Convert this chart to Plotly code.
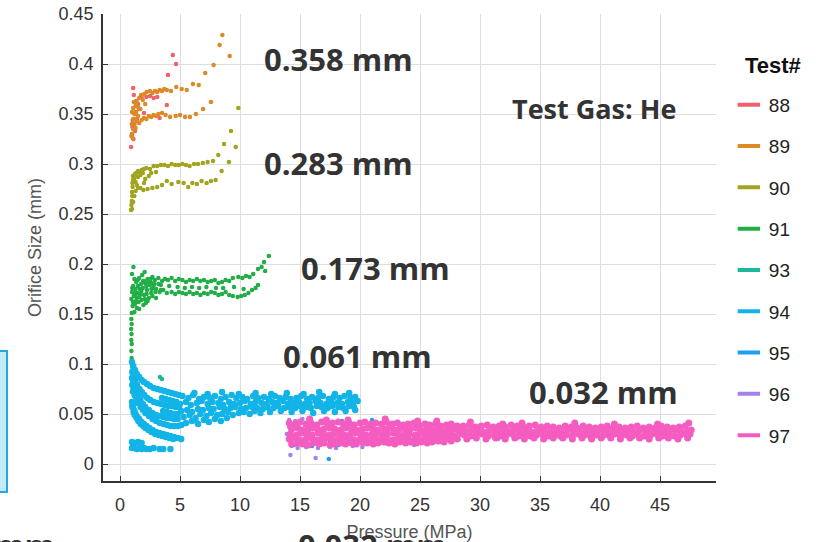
import plotly.graph_objects as go

# ---------------- data (Pressure MPa, Orifice size mm) ----------------
tests = ["88", "89", "90", "91", "93", "94", "95", "96", "97"]
colors = ["#F2616B", "#DC8A24", "#A2A41E", "#22AE46", "#1DB89A",
          "#12B4E8", "#1F9DF0", "#A482EE", "#F45CC0"]

p88 = [0.92, 1.03, 1.05, 1.1, 1.0, 1.15, 1.2, 1.3, 1.4, 1.5, 1.8, 2.2, 2.5, 2.8, 3.1, 3.3, 3.9, 4.0, 4.4, 4.67,
       1.25, 1.6, 2.0, 1.12, 1.35]
d88 = [0.317, 0.337, 0.344, 0.376, 0.330, 0.369, 0.340, 0.352, 0.345, 0.360, 0.367, 0.367, 0.368, 0.366, 0.367,
       0.346, 0.359, 0.389, 0.409, 0.400, 0.333, 0.355, 0.351, 0.325, 0.363]

p89 = [1.0, 1.1, 1.15, 1.2, 1.3, 1.4, 1.5, 1.6, 1.75, 1.9, 2.03, 2.22, 2.5, 2.7, 2.92, 3.1, 3.3, 3.5, 3.69, 3.9,
       4.25, 4.69, 5.14, 5.56, 6.08, 6.56, 7.1, 7.8, 8.3, 8.53, 9.14,
       1.0, 1.05, 1.1, 1.2, 1.3, 1.4, 1.6, 1.8, 2.0, 2.2, 2.4, 2.6, 2.8, 3.0, 3.2, 3.5, 3.8, 4.17, 4.64, 5.0,
       5.42, 5.83, 6.33, 6.92, 7.58,
       1.25, 1.35, 1.5, 1.7, 2.1, 1.1, 0.98, 0.95]
d89 = [0.352, 0.356, 0.362, 0.350, 0.358, 0.362, 0.357, 0.366, 0.369, 0.364, 0.370, 0.372, 0.373, 0.371, 0.373,
       0.372, 0.374, 0.373, 0.375, 0.374, 0.373, 0.377, 0.375, 0.374, 0.380, 0.379, 0.391, 0.399, 0.419, 0.429,
       0.408,
       0.330, 0.326, 0.335, 0.340, 0.336, 0.343, 0.341, 0.344, 0.346, 0.345, 0.348, 0.347, 0.349, 0.348, 0.350,
       0.351, 0.349, 0.347, 0.348, 0.349, 0.347, 0.347, 0.350, 0.355, 0.362,
       0.345, 0.352, 0.348, 0.355, 0.360, 0.345, 0.340, 0.328]

p90 = [0.92, 0.95, 0.98, 1.02, 1.0, 1.05, 1.03, 1.1, 1.08, 1.2, 1.25, 1.35, 1.5, 1.65, 1.8, 2.0, 2.2, 2.5, 2.8,
       3.1, 3.4, 3.7, 4.0, 4.3, 4.6, 4.9, 5.2, 5.5, 5.8, 6.17, 6.5, 6.9, 7.3, 7.75, 8.19, 8.67, 9.25, 9.64,
       1.0, 1.1, 1.2, 1.3, 1.5, 1.7, 1.95, 2.3, 2.7, 3.1, 3.5, 3.9, 4.3, 4.86, 5.3, 5.69, 6.03, 6.4, 6.8, 7.22,
       7.58, 7.97, 8.47, 9.08, 9.86,
       1.3, 1.5, 1.7, 2.1, 2.4, 2.0, 1.4, 2.6, 3.0, 1.9]
d90 = [0.254, 0.259, 0.263, 0.268, 0.272, 0.277, 0.281, 0.284, 0.288, 0.286, 0.290, 0.291, 0.293, 0.292, 0.294,
       0.295, 0.296, 0.295, 0.298, 0.298, 0.299, 0.299, 0.298, 0.300, 0.299, 0.299, 0.300, 0.299, 0.298, 0.300,
       0.300, 0.301, 0.302, 0.303, 0.309, 0.320, 0.333, 0.317,
       0.255, 0.262, 0.268, 0.273, 0.276, 0.276, 0.274, 0.275, 0.276, 0.277, 0.279, 0.283, 0.280, 0.282, 0.281,
       0.277, 0.281, 0.280, 0.283, 0.281, 0.283, 0.284, 0.293, 0.302, 0.356,
       0.282, 0.287, 0.289, 0.285, 0.288, 0.281, 0.279, 0.291, 0.292, 0.291]

p91 = [2.0, 2.3, 2.6, 2.9, 3.2, 3.5, 3.75, 4.0, 4.3, 4.6, 4.9, 5.2, 5.5, 5.8, 6.1, 6.4, 6.7, 7.0, 7.3, 7.6,
       7.9, 8.2, 8.5, 8.8, 9.1, 9.4, 9.86, 10.2, 10.5, 10.8, 11.1, 11.5, 11.8, 12.0, 12.4, 12.1,
       3.0, 3.3, 3.6, 3.9, 4.3, 4.6, 4.9, 5.2, 5.5, 5.8, 6.1, 6.4, 6.7, 7.0, 7.3, 7.6, 7.9, 8.2, 8.5, 8.8,
       9.1, 9.4, 9.8, 10.1, 10.4, 10.7, 11.0, 11.3, 11.5,
       2.2, 2.8, 3.4, 4.1, 4.8, 5.4, 6.0, 6.6, 7.2, 8.0, 8.6, 9.5, 10.3,
       0.95, 1.0, 1.05, 1.1, 1.15, 1.2, 1.25, 1.3, 1.35, 1.4, 1.45, 1.5, 1.55, 1.6, 1.7, 1.75, 1.8, 1.9, 2.0, 2.1,
       2.15, 2.25, 2.4, 2.5, 2.6, 2.7, 2.85, 3.0, 1.0, 1.2, 1.4, 1.6, 0.98, 1.08, 1.28, 1.65, 1.95, 2.3, 2.55, 1.85,
       1.12, 2.05, 2.7,
       1.02, 1.18, 1.33, 1.48, 1.62, 1.78, 1.92, 2.08, 2.22, 2.38, 2.62, 2.78, 2.95, 3.2, 3.4,
       0.95, 0.97, 0.93, 0.96, 0.94, 0.98, 0.95, 0.97, 1.0, 1.02, 1.05]
d91 = [0.183, 0.185, 0.181, 0.184, 0.186, 0.183, 0.185, 0.184, 0.186, 0.183, 0.185, 0.184, 0.182, 0.184, 0.183,
       0.185, 0.183, 0.184, 0.182, 0.183, 0.184, 0.181, 0.182, 0.184, 0.183, 0.186, 0.187, 0.186, 0.188, 0.187,
       0.190, 0.195, 0.197, 0.202, 0.208, 0.193,
       0.175, 0.172, 0.174, 0.171, 0.172, 0.170, 0.172, 0.171, 0.170, 0.172, 0.170, 0.171, 0.169, 0.171, 0.170,
       0.172, 0.171, 0.169, 0.170, 0.172, 0.169, 0.168, 0.167, 0.168, 0.169, 0.171, 0.174, 0.176, 0.179,
       0.178, 0.176, 0.179, 0.178, 0.177, 0.176, 0.177, 0.176, 0.177, 0.176, 0.176, 0.177, 0.175,
       0.165, 0.172, 0.158, 0.178, 0.168, 0.185, 0.160, 0.175, 0.182, 0.166, 0.171, 0.178, 0.162, 0.186, 0.170,
       0.180, 0.164, 0.176, 0.169, 0.181, 0.161, 0.174, 0.166, 0.179, 0.171, 0.168, 0.180, 0.166, 0.190, 0.152,
       0.156, 0.155, 0.151, 0.162, 0.168, 0.175, 0.159, 0.163, 0.185, 0.189, 0.197, 0.192, 0.187,
       0.176, 0.171, 0.163, 0.184, 0.167, 0.173, 0.183, 0.165, 0.170, 0.182, 0.175, 0.179, 0.172, 0.180, 0.174,
       0.145, 0.140, 0.135, 0.130, 0.124, 0.120, 0.113, 0.106, 0.100, 0.097, 0.093]

p93 = [1.0, 1.05, 1.1, 0.98, 1.15, 2.8, 3.2, 3.6, 4.0, 4.4, 5.1, 6.4, 6.9, 12.9, 10.0, 3.33, 3.5]
d93 = [0.088, 0.083, 0.078, 0.072, 0.068, 0.034, 0.031, 0.029, 0.027, 0.026, 0.024, 0.042, 0.044, 0.069,
       0.068, 0.087, 0.085]

# test 94: decaying arcs at low pressure, then the 0.061 mm band
p94_arcs = [1.0, 1.1, 1.25, 1.4, 1.6, 1.8, 2.0, 2.25, 2.5, 2.8, 3.1, 3.4, 3.7, 4.0, 4.3, 4.6, 4.9,
            1.02, 1.12, 1.27, 1.42, 1.62, 1.82, 2.02, 2.27, 2.52, 2.82, 3.12, 3.42, 3.72, 4.02, 4.32, 4.62, 4.92,
            1.0, 1.1, 1.2, 1.35, 1.5, 1.7, 1.9, 2.1, 2.4, 2.7, 3.0, 3.3, 3.6, 3.9, 4.2, 4.5, 4.8,
            1.02, 1.12, 1.22, 1.37, 1.52, 1.72, 1.92, 2.12, 2.42, 2.72, 3.02, 3.32, 3.62, 3.92, 4.22, 4.52, 4.82,
            5.12,
            1.0, 1.05, 1.1, 1.2, 1.3, 1.45, 1.6, 1.8, 2.0, 2.2, 2.45, 2.7, 3.0, 3.3, 3.6, 3.9, 4.2, 4.5, 4.8, 5.1,
            1.03, 1.13, 1.23, 1.38, 1.53, 1.73, 1.93, 2.13, 2.38, 2.63, 2.93, 3.23, 3.53, 3.83, 4.13, 4.43,
            3.5, 3.8, 4.1, 4.4, 4.7, 3.6, 3.9, 4.2, 4.5, 4.8]
d94_arcs = [0.102, 0.098, 0.094, 0.090, 0.087, 0.084, 0.082, 0.080, 0.078, 0.076, 0.075, 0.074, 0.073, 0.072,
            0.071, 0.070, 0.069,
            0.092, 0.088, 0.083, 0.079, 0.075, 0.072, 0.069, 0.066, 0.064, 0.062, 0.061, 0.060, 0.059, 0.058,
            0.058, 0.057, 0.057,
            0.086, 0.081, 0.077, 0.072, 0.068, 0.064, 0.060, 0.057, 0.054, 0.051, 0.049, 0.048, 0.047, 0.046,
            0.046, 0.045, 0.045,
            0.079, 0.074, 0.070, 0.065, 0.061, 0.057, 0.054, 0.051, 0.048, 0.045, 0.043, 0.041, 0.040, 0.039,
            0.038, 0.038, 0.038, 0.039,
            0.062, 0.059, 0.056, 0.053, 0.050, 0.047, 0.045, 0.042, 0.040, 0.038, 0.036, 0.034, 0.032, 0.031,
            0.030, 0.029, 0.028, 0.027, 0.026, 0.025,
            0.057, 0.052, 0.049, 0.046, 0.043, 0.040, 0.038, 0.036, 0.034, 0.032, 0.030, 0.029, 0.028, 0.027,
            0.026, 0.025,
            0.066, 0.065, 0.064, 0.063, 0.062, 0.053, 0.052, 0.051, 0.050, 0.050]
p94_low = [1.0, 1.2, 1.5, 1.8, 1.0, 1.2, 1.4, 1.6, 1.8, 2.0, 2.2, 2.5, 2.8, 3.3, 3.6, 4.2]
d94_low = [0.022, 0.021, 0.022, 0.021, 0.016, 0.016, 0.015, 0.016, 0.015, 0.016, 0.015, 0.015, 0.016, 0.015,
           0.015, 0.015]
p94_band = [5.2, 5.7, 6.1, 6.6, 7.0, 7.5, 7.9, 8.4, 8.8, 9.3, 9.7, 10.2, 10.6, 11.1, 11.5, 12.0, 12.4, 12.9,
            13.3, 13.8, 14.2, 14.7, 15.1, 15.6, 16.0, 16.5, 16.9, 17.4, 17.8, 18.3, 18.7, 19.2, 19.6,
            5.0, 5.5, 5.9, 6.4, 6.8, 7.3, 7.7, 8.2, 8.6, 9.1, 9.5, 10.0, 10.4, 10.9, 11.3, 11.8, 12.2, 12.7,
            13.1, 13.6, 14.0, 14.5, 14.9, 15.4, 15.8, 16.3, 16.7, 17.2, 17.6, 18.1, 18.5, 19.0, 19.4, 19.8,
            5.1, 5.6, 6.0, 6.5, 6.9, 7.4, 7.8, 8.3, 8.7, 9.2, 9.6, 10.1, 10.5, 11.0, 11.4, 11.9, 12.3, 12.8,
            13.2, 13.7, 14.1, 14.6, 15.0, 15.5, 15.9, 16.4, 16.8, 17.3, 17.7, 18.2, 18.6, 19.1, 19.5,
            5.3, 5.8, 6.3, 6.7, 7.2, 7.6, 8.1, 8.5, 9.0, 9.4, 9.9, 10.3, 10.8, 11.2, 11.7, 12.5, 13.4, 14.3,
            15.2, 16.1, 17.0, 17.9, 18.8, 19.6,
            5.5, 6.0, 6.5, 7.0, 7.4, 7.9, 8.4, 8.9,
            6.2, 7.3, 8.5, 9.9, 11.3, 12.6, 13.9, 15.3, 16.6, 17.9, 19.1]
d94_band = [0.068, 0.066, 0.069, 0.065, 0.067, 0.066, 0.068, 0.065, 0.067, 0.069, 0.066, 0.067, 0.065, 0.068,
            0.066, 0.067, 0.065, 0.068, 0.066, 0.067, 0.065, 0.066, 0.068, 0.065, 0.067, 0.066, 0.068, 0.065,
            0.067, 0.066, 0.068, 0.066, 0.067,
            0.060, 0.062, 0.059, 0.061, 0.063, 0.060, 0.062, 0.061, 0.059, 0.062, 0.060, 0.061, 0.063, 0.060,
            0.062, 0.061, 0.060, 0.062, 0.061, 0.063, 0.060, 0.061, 0.062, 0.060, 0.061, 0.063, 0.061, 0.060,
            0.062, 0.061, 0.060, 0.062, 0.061, 0.063,
            0.053, 0.054, 0.052, 0.055, 0.054, 0.056, 0.055, 0.057, 0.055, 0.056, 0.057, 0.055, 0.056, 0.057,
            0.056, 0.055, 0.057, 0.056, 0.058, 0.056, 0.057, 0.056, 0.058, 0.057, 0.056, 0.058, 0.057, 0.056,
            0.058, 0.057, 0.056, 0.058, 0.057,
            0.047, 0.049, 0.046, 0.050, 0.048, 0.051, 0.049, 0.050, 0.052, 0.049, 0.051, 0.052, 0.050, 0.053,
            0.051, 0.052, 0.053, 0.052, 0.053, 0.051, 0.053, 0.052, 0.053, 0.054,
            0.041, 0.043, 0.040, 0.044, 0.042, 0.045, 0.043, 0.046,
            0.071, 0.070, 0.072, 0.070, 0.071, 0.070, 0.071, 0.070, 0.072, 0.070, 0.071]

p95 = [14.5, 15.3, 16.0, 16.8, 17.5, 18.2, 19.0, 19.8, 20.5, 21.3, 22.0, 22.8, 23.5, 24.3, 25.0, 25.8, 26.6,
       27.4, 28.2, 29.5, 18.5, 21.0, 23.2, 25.5, 17.4]
d95 = [0.019, 0.021, 0.018, 0.020, 0.022, 0.019, 0.021, 0.023, 0.020, 0.022, 0.021, 0.023, 0.022, 0.021, 0.023,
       0.024, 0.022, 0.024, 0.025, 0.027, 0.043, 0.044, 0.042, 0.041, 0.005]

p96 = [14.1, 14.6, 15.2, 14.3, 14.8, 15.5, 16.5, 17.5, 18.0, 19.4, 20.2, 22.5, 24.5, 26.8, 31.5, 14.2, 16.3,
       13.9, 14.0, 14.1]
d96 = [0.044, 0.043, 0.045, 0.018, 0.016, 0.017, 0.016, 0.017, 0.016, 0.018, 0.017, 0.020, 0.019, 0.022, 0.025,
       0.009, 0.006, 0.030, 0.025, 0.037]

p97_r1 = [14.1, 14.6, 15.0, 15.5, 15.9, 16.4, 16.8, 17.3, 17.7, 18.2, 18.6, 19.1, 19.5, 20.0, 20.4, 20.9, 21.3,
          21.8, 22.2, 22.7, 23.1, 23.6, 24.0, 24.5, 24.9, 25.4, 25.8, 26.3, 26.7, 27.2, 27.6, 28.1,
          28.6, 29.1, 29.6, 30.1, 30.6, 31.1, 31.6, 32.1, 32.6, 33.1, 33.6, 34.1, 34.6, 35.1, 35.6, 36.1, 36.6,
          37.1, 37.6, 38.1, 38.6, 39.1, 39.6, 40.1, 40.6, 41.1, 41.6, 42.1, 42.6, 43.1, 43.6, 44.1, 44.6, 45.1,
          45.6, 46.1, 46.6, 47.1]
d97_r1 = [0.041, 0.040, 0.042, 0.040, 0.041, 0.039, 0.042, 0.040, 0.041, 0.042, 0.040, 0.041, 0.039, 0.041,
          0.042, 0.040, 0.041, 0.040, 0.042, 0.040, 0.041, 0.039, 0.040, 0.041, 0.039, 0.040, 0.039, 0.040,
          0.038, 0.039, 0.040, 0.038,
          0.038, 0.039, 0.037, 0.038, 0.039, 0.037, 0.038, 0.037, 0.039, 0.038, 0.037, 0.038, 0.039, 0.037,
          0.038, 0.037, 0.036, 0.038, 0.037, 0.036, 0.038, 0.037, 0.036, 0.037, 0.038, 0.036, 0.037, 0.036,
          0.037, 0.038, 0.036, 0.037, 0.036, 0.038, 0.037, 0.036, 0.037, 0.038]
p97_r2 = [14.3, 14.8, 15.2, 15.7, 16.1, 16.6, 17.0, 17.5, 17.9, 18.4, 18.8, 19.3, 19.7, 20.2, 20.6, 21.1, 21.5,
          22.0, 22.4, 22.9, 23.3, 23.8, 24.2, 24.7, 25.1, 25.6, 26.0, 26.5, 26.9, 27.4, 27.8, 28.3,
          28.8, 29.3, 29.8, 30.3, 30.8, 31.3, 31.8, 32.3, 32.8, 33.3, 33.8, 34.3, 34.8, 35.3, 35.8, 36.3, 36.8,
          37.3, 37.8, 38.3, 38.8, 39.3, 39.8, 40.3, 40.8, 41.3, 41.8, 42.3, 42.8, 43.3, 43.8, 44.3, 44.8, 45.3,
          45.8, 46.3, 46.8, 47.3]
d97_r2 = [0.035, 0.036, 0.034, 0.035, 0.036, 0.034, 0.035, 0.036, 0.035, 0.034, 0.036, 0.035, 0.034, 0.035,
          0.036, 0.035, 0.034, 0.035, 0.036, 0.034, 0.035, 0.034, 0.035, 0.036, 0.034, 0.035, 0.034, 0.035,
          0.033, 0.034, 0.035, 0.033,
          0.033, 0.034, 0.033, 0.032, 0.034, 0.033, 0.032, 0.033, 0.034, 0.032, 0.033, 0.032, 0.034, 0.033,
          0.032, 0.033, 0.032, 0.034, 0.033, 0.032, 0.033, 0.032, 0.033, 0.034, 0.032, 0.033, 0.032, 0.033,
          0.032, 0.034, 0.033, 0.032, 0.033, 0.032, 0.033, 0.034, 0.032, 0.033]
p97_r3 = [14.2, 14.7, 15.1, 15.6, 16.0, 16.5, 16.9, 17.4, 17.8, 18.3, 18.7, 19.2, 19.6, 20.1, 20.5, 21.0, 21.4,
          21.9, 22.3, 22.8, 23.2, 23.7, 24.1, 24.6, 25.0, 25.5, 25.9, 26.4, 26.8, 27.3, 27.7, 28.2,
          28.7, 29.2, 29.7, 30.2, 30.7, 31.2, 31.7, 32.2, 32.7, 33.2, 33.7, 34.2, 34.7, 35.2, 35.7, 36.2, 36.7,
          37.2, 37.7, 38.2, 38.7, 39.2, 39.7, 40.2, 40.7, 41.2, 41.7, 42.2, 42.7, 43.2, 43.7, 44.2, 44.7, 45.2,
          45.7, 46.2, 46.7, 47.2]
d97_r3 = [0.030, 0.029, 0.031, 0.030, 0.029, 0.031, 0.030, 0.029, 0.030, 0.031, 0.029, 0.030, 0.031, 0.030,
          0.029, 0.030, 0.031, 0.029, 0.030, 0.031, 0.030, 0.029, 0.030, 0.029, 0.031, 0.030, 0.029, 0.030,
          0.029, 0.030, 0.029, 0.030,
          0.029, 0.028, 0.029, 0.030, 0.028, 0.029, 0.028, 0.029, 0.030, 0.028, 0.029, 0.028, 0.029, 0.030,
          0.028, 0.029, 0.028, 0.029, 0.028, 0.030, 0.029, 0.028, 0.029, 0.028, 0.029, 0.030, 0.028, 0.029,
          0.028, 0.029, 0.028, 0.029, 0.030, 0.028, 0.029, 0.028, 0.029, 0.030]
p97_r4 = [14.1, 14.6, 15.0, 15.5, 15.9, 16.4, 16.8, 17.3, 17.7, 18.2, 18.6, 19.1, 19.5, 20.0, 20.4, 20.9, 21.3,
          21.8, 22.2, 22.7, 23.1, 23.6, 24.0, 24.5, 24.9, 25.4, 25.8, 26.3, 26.7, 27.2, 27.6, 28.1,
          28.9, 29.7, 30.5, 31.3, 32.1, 32.9, 33.7, 34.5, 35.3, 36.1, 36.9, 37.7, 38.5, 39.3, 40.1, 40.9, 41.7,
          42.5, 43.3, 44.1, 44.9, 45.7, 46.5, 47.3]
d97_r4 = [0.025, 0.026, 0.024, 0.025, 0.026, 0.024, 0.025, 0.026, 0.024, 0.025, 0.026, 0.025, 0.024, 0.025,
          0.026, 0.024, 0.025, 0.026, 0.025, 0.024, 0.025, 0.026, 0.025, 0.024, 0.025, 0.026, 0.025, 0.025,
          0.026, 0.025, 0.026, 0.025,
          0.025, 0.026, 0.025, 0.026, 0.025, 0.026, 0.025, 0.026, 0.025, 0.026, 0.026, 0.025, 0.026, 0.025,
          0.026, 0.026, 0.025, 0.026, 0.026, 0.025, 0.026, 0.026, 0.025, 0.026]
p97_r5 = [14.3, 14.8, 15.2, 15.7, 16.1, 16.6, 17.0, 17.5, 17.9, 18.4, 18.8, 19.3, 19.7, 20.2, 20.6, 21.1, 21.5,
          22.0, 22.4, 22.9, 23.3, 23.8, 24.2, 24.7, 25.1, 25.6, 26.0, 26.5, 27.0, 27.6]
d97_r5 = [0.020, 0.021, 0.020, 0.019, 0.021, 0.020, 0.021, 0.019, 0.020, 0.021, 0.020, 0.021, 0.020, 0.022,
          0.021, 0.020, 0.021, 0.022, 0.021, 0.020, 0.022, 0.021, 0.022, 0.021, 0.022, 0.021, 0.022, 0.023,
          0.022, 0.023]
p97_edge = [15.8, 19.0, 22.1, 26.4, 29.2, 33.5, 37.9, 41.2, 44.8, 47.4, 47.5, 47.6, 17.2, 24.8, 31.9]
d97_edge = [0.045, 0.044, 0.045, 0.043, 0.042, 0.041, 0.041, 0.040, 0.040, 0.041, 0.030, 0.034, 0.044, 0.043,
            0.040]

series = {
    "88": (p88, d88),
    "89": (p89, d89),
    "90": (p90, d90),
    "91": (p91, d91),
    "93": (p93, d93),
    "94": (p94_arcs + p94_low + p94_band, d94_arcs + d94_low + d94_band),
    "95": (p95, d95),
    "96": (p96, d96),
    "97": (p97_r1 + p97_r2 + p97_r3 + p97_r4 + p97_r5 + p97_edge,
           d97_r1 + d97_r2 + d97_r3 + d97_r4 + d97_r5 + d97_edge),
}
marker_size = {"94": 6.5, "97": 7}

labels = [("0.358 mm", 18.2, 0.405), ("0.283 mm", 18.2, 0.301), ("0.173 mm", 21.3, 0.196),
          ("0.061 mm", 19.8, 0.108), ("0.032 mm", 40.3, 0.072)]

# ---------------- figure ----------------
fig = go.Figure()
for t, c in zip(tests, colors):
    px_, dy_ = series[t]
    fig.add_trace(go.Scatter(x=px_, y=dy_, mode="markers", name=t, legendgroup=t, showlegend=False,
                             marker=dict(color=c, size=marker_size.get(t, 4.5), line=dict(width=0))))
for t, c in zip(tests, colors):
    fig.add_trace(go.Scatter(x=[None], y=[None], mode="markers", name=t, legendgroup=t, showlegend=True,
                             marker=dict(symbol="line-ew", size=16, color=c, line=dict(width=4, color=c))))

ann_font = dict(family="Open Sans, Lato, sans-serif", size=31, color="#333333")
annotations = []
for text, x, y in labels:
    annotations.append(dict(text="<b>" + text + "</b>", x=x, y=y, xref="x", yref="y", showarrow=False,
                            xanchor="center", yanchor="middle", font=ann_font))
annotations.append(dict(text="<b>Test Gas: He</b>", x=39.5, y=0.356, xref="x", yref="y", showarrow=False,
                        xanchor="center", yanchor="middle",
                        font=dict(family="Open Sans, Lato, sans-serif", size=27, color="#333333")))
# legend heading
annotations.append(dict(text="<b>Test#</b>", x=(773 - 103) / 613, y=(481 - 66) / 467, xref="paper",
                        yref="paper", showarrow=False, xanchor="center", yanchor="middle",
                        font=dict(family="Liberation Sans, Arial, sans-serif", size=22, color="#111111")))
# clipped slide text at the bottom edge
annotations.append(dict(text="<b>0.032 mm</b>", x=(372 - 103) / 613, y=(481 - 545) / 467, xref="paper",
                        yref="paper", showarrow=False, xanchor="center", yanchor="middle", font=ann_font))
annotations.append(dict(text="<b>mm</b>", x=(24 - 103) / 613, y=(481 - 545) / 467, xref="paper",
                        yref="paper", showarrow=False, xanchor="center", yanchor="middle", font=ann_font))

tick_font = dict(family="Liberation Sans, Arial, sans-serif", size=18, color="#333333")
title_font = dict(family="Liberation Sans, Arial, sans-serif", size=18, color="#555555")

fig.update_layout(
    width=816, height=542,
    margin=dict(l=103, r=100, t=14, b=61, autoexpand=False),
    paper_bgcolor="white", plot_bgcolor="white",
    showlegend=True,
    legend=dict(x=1.021, y=0.846, xanchor="left", yanchor="top",
                font=dict(family="Liberation Sans, Arial, sans-serif", size=19, color="#222222"),
                tracegroupgap=13.6, bgcolor="rgba(0,0,0,0)", itemsizing="trace"),
    annotations=annotations,
    shapes=[dict(type="rect", xref="paper", yref="paper",
                 x0=(-4 - 103) / 613, x1=(7 - 103) / 613, y0=(481 - 492) / 467, y1=(481 - 351) / 467,
                 line=dict(color="#27A4E4", width=2), fillcolor="#C4E9FA", layer="above")],
    xaxis=dict(range=[-1.417, 49.667], tickvals=[0, 5, 10, 15, 20, 25, 30, 35, 40, 45],
               showgrid=True, gridcolor="#DEDEDE", gridwidth=1, zeroline=False, automargin=False,
               showline=True, linecolor="#333333", linewidth=1.5, mirror=False,
               ticks="inside", ticklen=5, tickcolor="#333333", tickfont=tick_font, ticklabelstandoff=7,
               title=dict(text="Pressure (MPa)", font=title_font, standoff=14)),
    yaxis=dict(range=[-0.017, 0.45], tickvals=[0, 0.05, 0.1, 0.15, 0.2, 0.25, 0.3, 0.35, 0.4, 0.45],
               ticktext=["0", "0.05", "0.1", "0.15", "0.2", "0.25", "0.3", "0.35", "0.4", "0.45"],
               showgrid=True, gridcolor="#DEDEDE", gridwidth=1, zeroline=False, automargin=False,
               showline=True, linecolor="#333333", linewidth=1.5, mirror=False,
               ticks="inside", ticklen=5, tickcolor="#333333", tickfont=tick_font, ticklabelstandoff=4,
               title=dict(text="Orifice Size (mm)", font=title_font, standoff=12)),
)

# the page's default 8px body margin would offset the figure; remove it
fig.write_html("out.html", config={"displayModeBar": False},
               post_script="document.body.style.margin='0px';")
